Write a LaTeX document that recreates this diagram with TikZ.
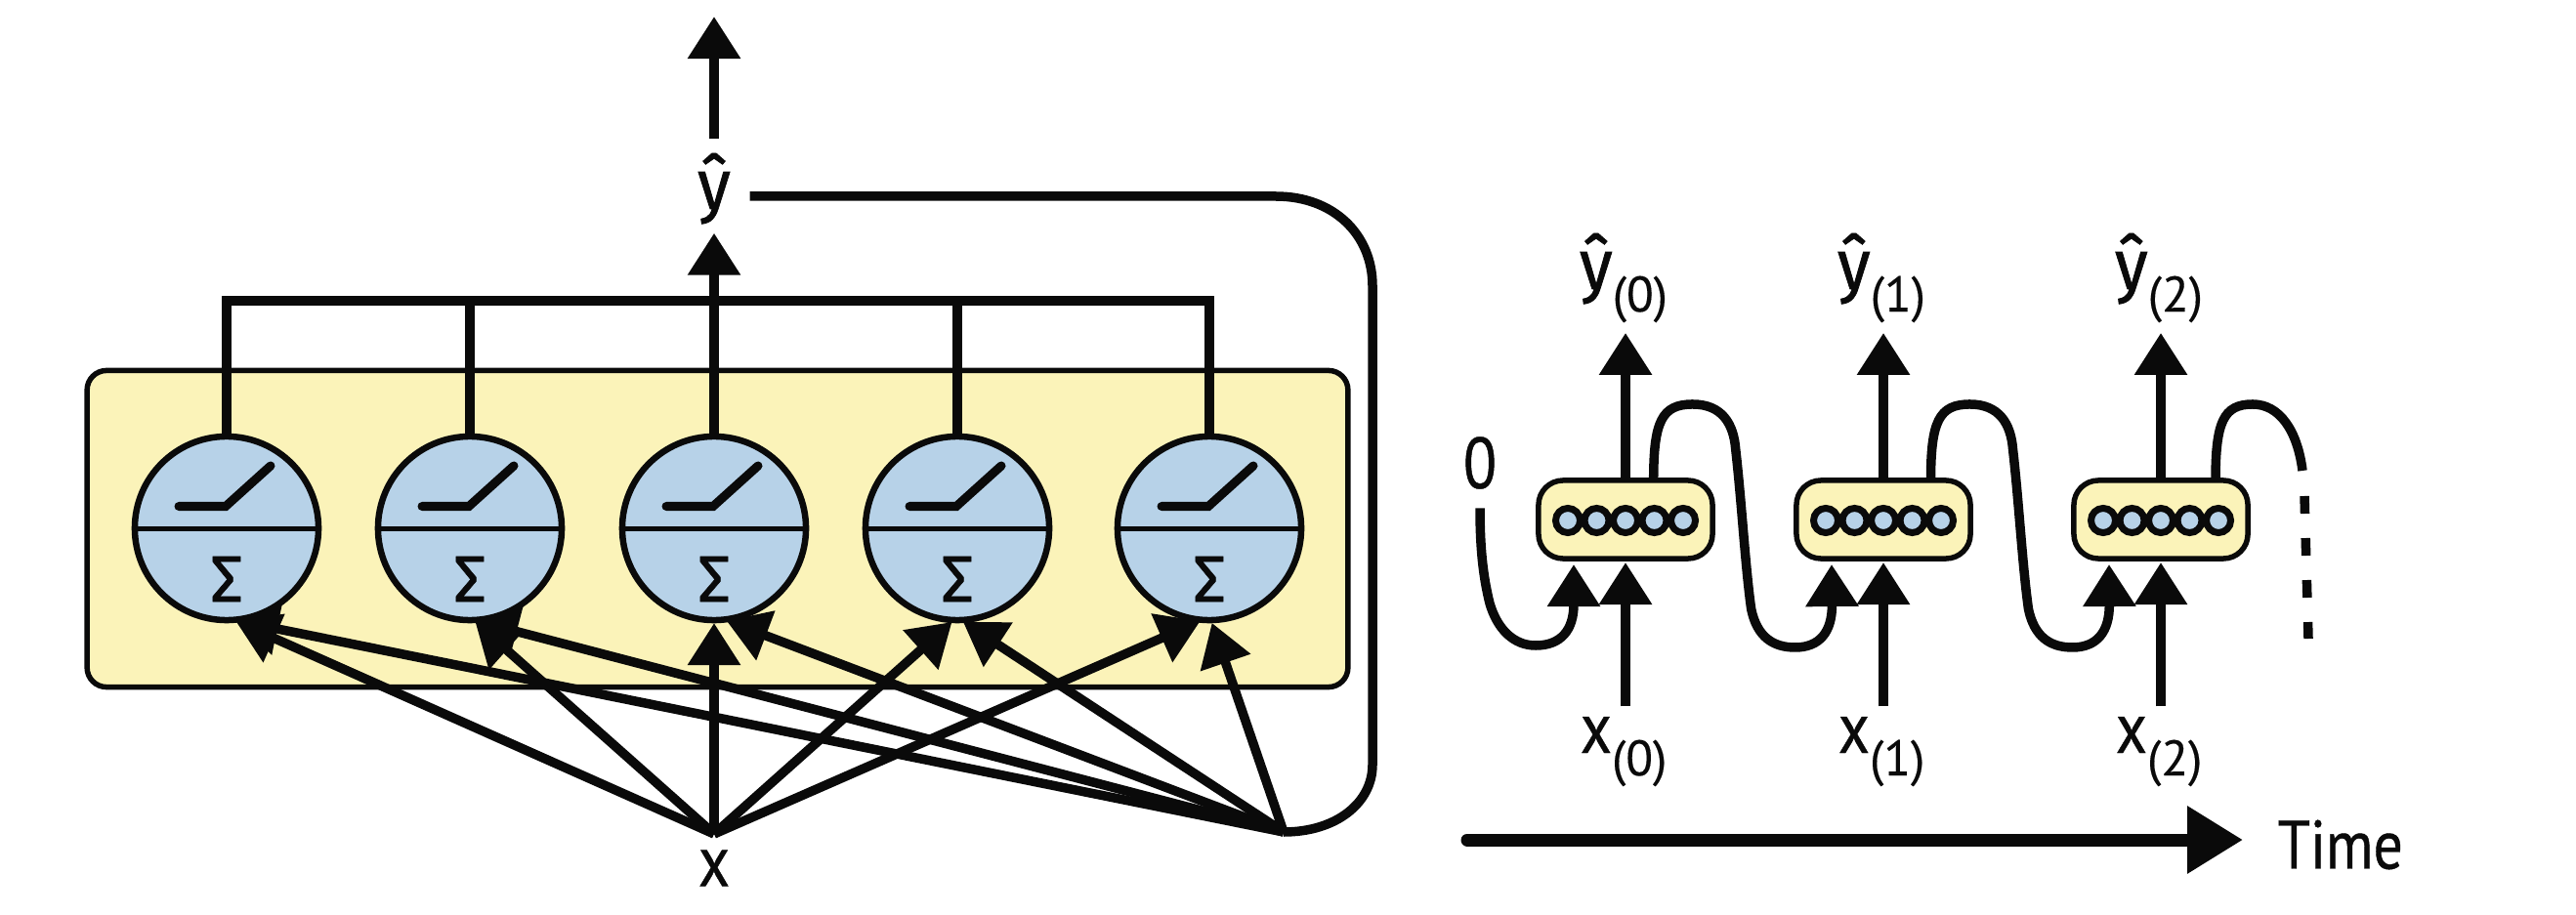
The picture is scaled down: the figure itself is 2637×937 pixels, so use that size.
\documentclass[tikz,border=0pt]{standalone}
\usepackage{fontspec}
\setmainfont[FakeStretch=.85,FakeBold=.6]{PT Sans}
\newfontfamily\sigmafont[FakeBold=.8]{Fira Sans}
\newfontfamily\hatfont[FakeStretch=.95,FakeBold=1]{Fira Sans}
\newfontfamily\subfont[FakeBold=.3]{PT Sans}
\usepackage{xcolor}
\usepackage{tikz}
\usetikzlibrary{calc, arrows.meta}
\definecolor{cellyellow}{HTML}{FBF3B9}
\definecolor{cellblue}{HTML}{B7D2E8}
\definecolor{inkblack}{HTML}{0A0A0A}
\tikzstyle{arrow}    = [line width=.095cm,draw=inkblack,-{Triangle[length=.43cm,width=.52cm]}]
\tikzstyle{wire}     = [line width=.095cm,draw=inkblack]
\newcommand{\tsub}[1]{\raisebox{-.23cm}{\subfont\fontsize{14.5}{14.5}\selectfont(#1)}}
\newcommand{\yhatmark}{{\hatfont\fontsize{20.5}{20.5}\selectfont ŷ}}

\begin{document}
\begin{tikzpicture}[
    x=.01cm,y=-.01cm,
    hiddenbox/.style={draw=inkblack,fill=cellyellow,line width=.055cm,rounded corners=.2cm,
      minimum width=12.9cm,minimum height=3.24cm,outer sep=0pt},
    neuron/.style={circle,draw=inkblack,fill=cellblue,line width=.065cm,minimum size=1.88cm,inner sep=0pt,outer sep=0pt},
    divider/.style={line width=.05cm,draw=inkblack},
    ramp/.style={line width=.09cm,draw=inkblack,line cap=round},
    sigma/.style={font=\sigmafont\fontsize{19}{19}\selectfont,text=inkblack,inner sep=0pt},
    module/.style={draw=inkblack,fill=cellyellow,line width=.055cm,rounded corners=.25cm,
      minimum width=1.78cm,minimum height=.8cm,outer sep=0pt},
    cell/.style={circle,draw=inkblack,fill=cellblue,line width=.07cm,minimum size=.25cm,inner sep=0pt},
    lbl/.style={font=\fontsize{21}{21}\selectfont,text=inkblack,inner sep=.1cm},
    fan/.style={arrow,shorten >=.03cm},
  ]
  \path[use as bounding box] (0,0) rectangle (2637,937);
  \node[hiddenbox] (hidden) at (734.5,541.5) {};
  \foreach \i/\cx in {1/232,2/481,3/731,4/980,5/1238} {
    \node[neuron] (n\i) at (\cx,541) {};
    \draw[divider] (n\i.west) -- (n\i.east);
    \draw[ramp] ($(n\i)+(-49,-22.5)$) -- ++(48,0) -- ++(46,-41.5);
    \node[sigma] (s\i) at ($(n\i)+(0,52)$) {Σ};
  }
  \node[lbl,anchor=base,inner sep=0pt,text height=.71cm,text depth=.24cm,minimum width=.72cm] (yhat) at (731,214) {\yhatmark};
  \node[lbl,inner sep=.19cm] (xlabel) at (731,889) {x};
  \coordinate (vin) at (1314,852);
  \coordinate (xin) at (731,854);
  \coordinate (bus) at (731,308);
  \coordinate (ytop) at (731,17);
  \coordinate (fbtop) at (1306,201);
  \draw[arrow] (yhat.north) -- (ytop);
  \draw[wire] (n1.north) |- (bus) -| (n5.north);
  \foreach \i in {2,4} {
    \draw[wire] (n\i.north) -- (n\i.north |- bus);
  }
  \draw[arrow] (n3.north) -- (yhat.south);
  \draw[wire] (yhat.east |- fbtop) -- (fbtop) .. controls (1365,201) and (1405,240) .. (1405,293)
    -- (1405,783) .. controls (1405,822) and (1368,852) .. (vin);
  \draw[fan] (xin) -- (n1.-86);
  \draw[fan] (xin) -- (n2.-88);
  \draw[fan] (xin) -- (n3.-90);
  \draw[fan] (xin) -- (n4.-92);
  \draw[fan] (xin) -- (n5.-94);
  \draw[fan] (vin) -- (n1.-86);
  \draw[fan] (vin) -- (n2.-88);
  \draw[fan] (vin) -- (n3.-84);
  \draw[fan] (vin) -- (n4.-88);
  \draw[fan] (vin) -- (n5.-89);

  \foreach \i/\cx/\t in {1/1664/0,2/1928/1,3/2212/2} {
    \node[module] (m\i) at (\cx,532) {};
    \foreach \k in {1,...,5} {
      \node[cell] (c\i\k) at ($(m\i)+({(\k-3)*29.5},1)$) {};
    }
    \coordinate (in\i) at ($(m\i.south)+(-53,6)$);
    \node[lbl,anchor=base] (xl\i) at ($(m\i)+(-2,239)$) {x\tsub{\t}};
    \node[lbl,anchor=base] (yl\i) at ($(m\i)+(-2,-236)$) {\yhatmark\tsub{\t}};
    \draw[arrow,shorten >=.04cm] (xl\i.north -| m\i.south) -- (m\i.south);
    \draw[arrow] (m\i.north) -- (yl\i.south -| m\i.north);
  }
  \node[lbl,inner sep=.19cm] (zero) at (1515,474) {0};
  \draw[arrow] (zero.south) .. controls (1515,560) and (1518,590) .. (1525,618)
    .. controls (1533,645) and (1550,661) .. (1572,661)
    .. controls (1598,661) and (1611,645) .. (in1);
  \foreach \i/\j/\dx in {1/2/28.7,2/3/48.5} {
    \coordinate (t\i) at ($(m\i.north)+(\dx,0)$);
    \draw[arrow,shift={(t\i)}] (t\i) .. controls (0,-60) and (8,-78) .. (40,-78)
      .. controls (70,-78) and (82,-58) .. (84,-32)
      .. controls (90,20) and (94,90) .. (100,132)
      .. controls (106,160) and (122,171) .. (145,171)
      .. controls (170,171) and (183,155) .. (in\j);
  }
  \coordinate (t3) at ($(m3.north)+(56,0)$);
  \coordinate (d1) at (2359,508);
  \coordinate (d2) at (2363,654);
  \draw[wire,shift={(t3)}] (t3) .. controls (0,-60) and (8,-78) .. (38,-78)
    .. controls (66,-78) and (84,-50) .. (89,-10);
  \draw[wire,dash pattern=on .18cm off .25cm] (d1) -- (d2);

  \coordinate (tstart) at (1502,860);
  \node[font=\fontsize{20}{20}\selectfont,text=inkblack,inner xsep=.35cm,anchor=west] (timelabel) at (2296,865) {Time};
  \draw[line width=.13cm,draw=inkblack,line cap=round,-{Triangle[length=.57cm,width=.66cm]}] (tstart) -- (timelabel.west |- tstart);
\end{tikzpicture}
\end{document}
